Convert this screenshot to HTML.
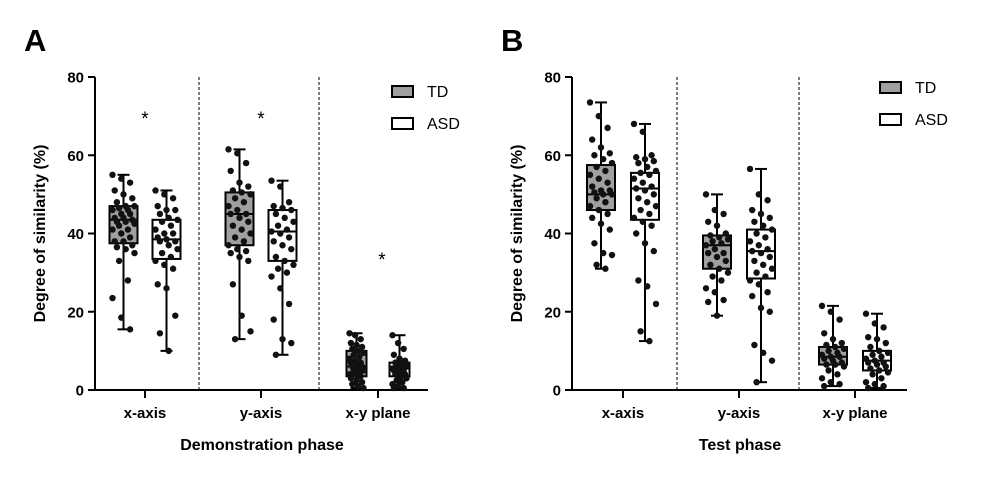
<!DOCTYPE html>
<html><head><meta charset="utf-8"><style>
body{margin:0;background:#fff}
svg{display:block;font-family:"Liberation Sans",Arial,sans-serif}
</style></head><body>
<svg id="c" width="983" height="488" viewBox="0 0 983 488"></svg>
<script>
const categories=["x-axis","y-axis","x-y plane"];
const yTicks=[0,20,40,60,80];
const groups=["TD","ASD"];
// [min,q1,median,q3,max] per category for TD and ASD
const demoTD=[[15.5,37.5,43.5,47,55],[13,37,45,50.5,61.5],[0.5,3.5,6,10,14.5]];
const demoASD=[[10,33.5,38.5,43.5,51],[9,33,40.5,46,53.5],[0.5,3.5,5.5,7,14]];
const testTD=[[31,46,50,57.5,73.5],[19,31,37,39.5,50],[1,6.5,8.5,11,21.5]];
const testASD=[[12.5,43.5,51.5,55.5,68],[2,28.5,35.5,41,56.5],[0.5,5,7.5,10,19.5]];
const demoPtsTD=[[55,54,53,51,50,49,48,47,47,46.5,46,46,45,45,44,44,43.5,43,43,42.5,42,41,41,40,39,38,38,37,36.5,36,35,33,28,23.5,18.5,15.5],
[61.5,60.5,58,56,53,52,51,50.5,50,49,48,47,46,45,45,44,43,42,41,40,39,38,37,36,35.5,35,34,33,27,19,15,13],
[14.5,14,13,12,11.5,11,10.5,10,9.5,9,8.5,8,7.5,7,7,6.5,6,6,5.5,5,5,4.5,4,4,3.5,3,2.5,2,1.5,1,0.5]];
const demoPtsASD=[[51,50,49,47,46,46,45,44,43.5,43,42,41,40,40,39,38.5,38,38,37,36,35,34,33,32,31,27,26,19,14.5,10],
[53.5,52,48,47,46.5,46,45,44,43,42,41,40.5,40,39,38,37,36,34,33,32,31,30,29,26,22,18,13,12,9],
[14,12,10.5,9,8,7.5,7,7,6.5,6,6,5.5,5.5,5,5,4.5,4,4,3.5,3,2.5,2,1.5,1,0.5,0.5]];
const testPtsTD=[[73.5,70,67,64,62,60.5,60,59,58,57,56,55,54,53,52,51,51,50.5,50,50,49,48,47,46,45,44,42.5,41,37.5,35,34.5,32,31],
[50,46,45,43,42,40,39.5,39,38.5,38,37.5,37,36,35,35,34,33,32,31,30,29,28,26,25,23,22.5,19],
[21.5,20,18,14.5,13,12,11.5,11,10.5,10,9.5,9,8.5,8.5,8,7.5,7,6.5,6.5,6,5,4,3,2,1.5,1]];
const testPtsASD=[[68,66,60,59.5,59,58.5,58,57,56,55.5,55,54,53,52,51.5,51,50,49,48,47,46,45,44,43,42,40,37.5,35.5,28,26.5,22,15,12.5],
[56.5,50,48.5,46,45,44,43,42,41,40,39,38,37,36,35.5,35,34,33,32,31,30,29,28,27,25,24,21,20,11.5,9.5,7.5,2],
[19.5,17,16,13.5,13,12,11,10,9.5,9,8.5,8,7.5,7,7,6.5,6,5.5,5,4.5,4,3,2,1.5,1,0.5]];
const demoStars=[70,70,34];

const svg=document.getElementById('c');
const NS='http://www.w3.org/2000/svg';
function mk(tag,at,parent,txt){const e=document.createElementNS(NS,tag);for(const k in at)e.setAttribute(k,at[k]);if(txt!==undefined)e.textContent=txt;(parent||svg).appendChild(e);return e;}

function panel(cfg){
  const g=mk('g',{});
  
  
  const y=v=>cfg.y0-(v/80)*(cfg.y0-cfg.y80);
  const x=i=>cfg.xc[i];
  const lt=mk('text',{x:cfg.letterX,y:51,'font-size':31,'font-weight':'bold'},g,cfg.letter);
  
  
  cfg.seps.forEach(sx=>{const s=mk('line',{x1:sx,x2:sx,y1:cfg.y80,y2:cfg.y0,stroke:'#000','stroke-width':1,'stroke-dasharray':'3,2'},g);
    });
  const ya=mk('line',{x1:cfg.ax,x2:cfg.ax,y1:cfg.y80,y2:cfg.y0+1,stroke:'#000','stroke-width':2},g);
  
  const xa=mk('line',{x1:cfg.ax-1,x2:cfg.xEnd,y1:cfg.y0,y2:cfg.y0,stroke:'#000','stroke-width':2},g);
  
  yTicks.forEach(t=>{
    mk('line',{x1:cfg.ax-7,x2:cfg.ax,y1:y(t),y2:y(t),stroke:'#000','stroke-width':2},g);
    const tl=mk('text',{x:cfg.ax-11,y:y(t)+5.5,'font-size':15,'font-weight':'bold','text-anchor':'end'},g,t);
    
  });
  categories.forEach((c,i)=>{
    mk('line',{x1:x(i),x2:x(i),y1:cfg.y0,y2:cfg.y0+8,stroke:'#000','stroke-width':2},g);
    const cl=mk('text',{x:x(i),y:418,'font-size':15,'font-weight':'bold','text-anchor':'middle'},g,c);
    
  });
  const yt=mk('text',{transform:`translate(${cfg.ax-50},${y(40)}) rotate(-90)`,'font-size':16,'font-weight':'bold','text-anchor':'middle'},g,'Degree of similarity (%)');
  
  const xt=mk('text',{x:cfg.titleX,y:450,'font-size':16,'font-weight':'bold','text-anchor':'middle'},g,cfg.title);
  
  [[cfg.td,cfg.ptsTD,-1,'#a0a0a0','td'],[cfg.asd,cfg.ptsASD,1,'#fff','asd']].forEach(([stats,pts,side,fill,nm])=>{
    stats.forEach((s,i)=>{
      const w=cfg.bw[i];const cx=x(i)+side*cfg.off;
      const bg=mk('g',{},g);
      
      mk('line',{x1:cx,x2:cx,y1:y(s[0]),y2:y(s[4]),stroke:'#000','stroke-width':2},bg);
      mk('line',{x1:cx-6,x2:cx+6,y1:y(s[0]),y2:y(s[0]),stroke:'#000','stroke-width':2},bg);
      mk('line',{x1:cx-6,x2:cx+6,y1:y(s[4]),y2:y(s[4]),stroke:'#000','stroke-width':2},bg);
      mk('rect',{x:cx-w/2,y:y(s[3]),width:w,height:y(s[1])-y(s[3]),fill:fill,stroke:'#000','stroke-width':2},bg);
      mk('line',{x1:cx-w/2,x2:cx+w/2,y1:y(s[2]),y2:y(s[2]),stroke:'#000','stroke-width':2},bg);
      pts[i].forEach((v,k)=>{
        const j=((k*37)%11-5)/5*(w/2-3);
        const d=mk('circle',{cx:cx+j,cy:y(v),r:3.2,fill:'#111'},bg);
        
      });
    });
  });
  if(cfg.stars) cfg.stars.forEach((v,i)=>{
    const st=mk('text',{x:x(i)+(i==2?4:0),y:y(v)+9,'font-size':19,'text-anchor':'middle'},g,'*');
    
  });
  groups.forEach((gn,k)=>{
    const lg=mk('g',{},g);
    
    const ly=cfg.legY+k*32;
    mk('rect',{x:cfg.legX,y:ly-5,width:21,height:11,fill:k?'#fff':'#a0a0a0',stroke:'#000','stroke-width':2},lg);
    mk('text',{x:cfg.legX+35,y:ly+6,'font-size':16},lg,gn);
  });
}
panel({name:'panel-a-demonstration',letter:'A',letterX:24,ax:95,y0:390,y80:77,xEnd:428,xc:[145,261,378],off:21.5,bw:[28,28,20],seps:[199,319],
  td:demoTD,asd:demoASD,ptsTD:demoPtsTD,ptsASD:demoPtsASD,stars:demoStars,legX:392,legY:91,title:'Demonstration phase',titleX:262});
panel({name:'panel-b-test',letter:'B',letterX:501,ax:572,y0:390,y80:77,xEnd:907,xc:[623,739,855],off:22,bw:[28,28,28],seps:[677,799],
  td:testTD,asd:testASD,ptsTD:testPtsTD,ptsASD:testPtsASD,stars:null,legX:880,legY:87,title:'Test phase',titleX:740});
</script>
</body></html>
